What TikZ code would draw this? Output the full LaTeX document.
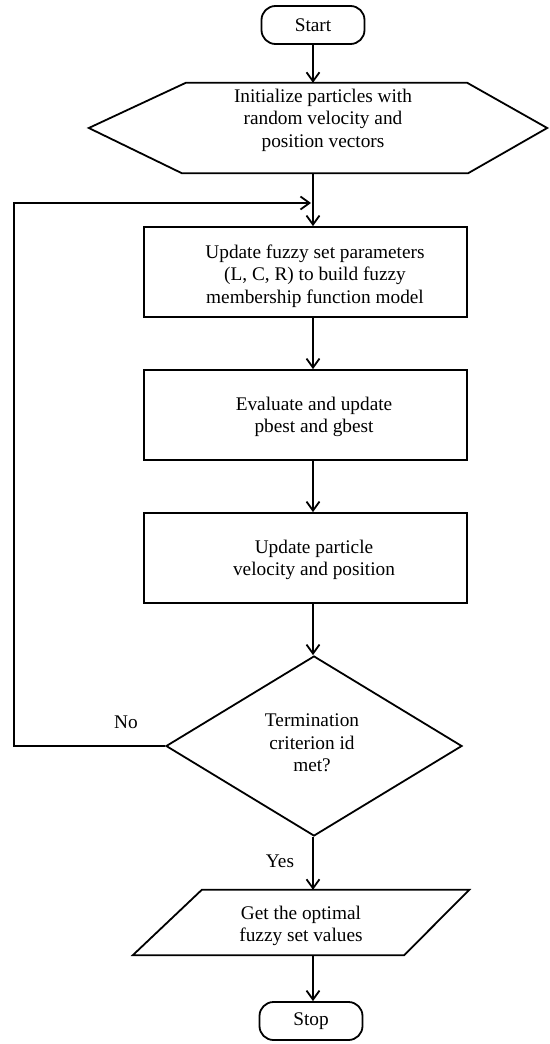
\documentclass[tikz,border=0pt]{standalone}
\usepackage{fontspec}
\setmainfont{Liberation Serif}
\usetikzlibrary{arrows.meta,shapes.geometric}
\begin{document}
\begin{tikzpicture}[x=1pt,y=-1pt,
  every node/.style={font=\fontsize{19.3}{22.5}\selectfont},
  ln/.style={line width=1.8pt},
  arr/.style={ln,-{Straight Barb[length=9pt,width=13pt]}},
  procbox/.style={draw,line width=1.8pt,minimum width=323pt,minimum height=90pt,inner sep=0pt},
  term/.style={draw,line width=1.8pt,rounded corners=14pt,minimum width=103pt,minimum height=38pt,inner sep=0pt},
  txt/.style={align=center,inner sep=0pt},
  ghost/.style={draw=none,inner sep=0pt}
]
\useasboundingbox (0,0) rectangle (549,1044);

\node[term] (start) at (313,25) {Start};

\node[ghost,minimum width=458pt,minimum height=90pt] (hex) at (318,128) {};
\draw[ln] (hex.west) -- ([xshift=97pt]hex.north west) -- ([xshift=-80pt]hex.north east) -- (hex.east) -- ([xshift=-79pt]hex.south east) -- ([xshift=93pt]hex.south west) -- cycle;
\node[txt] (thex) at (323,120) {Initialize particles with\\random velocity and\\position vectors};

\node[procbox] (b1) at (305.5,272) {};
\node[txt] (t1) at (315,276) {Update fuzzy set parameters\\(L, C, R) to build fuzzy\\membership function model};
\node[procbox] (b2) at (305.5,415) {};
\node[txt] (t2) at (314,417) {Evaluate and update\\pbest and gbest};
\node[procbox] (b3) at (305.5,558) {};
\node[txt] (t3) at (314,560) {Update particle\\velocity and position};

\node[diamond,draw,ln,minimum width=296pt,minimum height=180pt,inner sep=0pt] (dia) at (314,746) {};
\node[txt] (tdia) at (312,743) {Termination\\criterion id\\met?};

\node[ghost,minimum width=336pt,minimum height=65pt] (para) at (301,922.5) {};
\draw[ln] ([xshift=69pt]para.north west) -- (para.north east) -- ([xshift=-65pt]para.south east) -- (para.south west) -- cycle;
\node[txt] (tpara) at (301,926) {Get the optimal\\fuzzy set values};

\node[term] (stop) at (311,1021) {Stop};

\node (no) at (126,722) {No};
\node (yes) at (280,861) {Yes};

\coordinate (loopin) at (311,203);
\draw[arr] (start) -- (start |- hex.north);
\draw[arr] (start |- hex.south) -- (start |- b1.north);
\draw[arr] (dia.west) -- ++(-151,0) |- (loopin);
\draw[arr] (start |- b1.south) -- (start |- b2.north);
\draw[arr] (start |- b2.south) -- (start |- b3.north);
\draw[arr] (start |- b3.south) -- (start |- dia.north);
\draw[arr] (start |- dia.south) -- (start |- para.north);
\draw[arr] (start |- para.south) -- (start |- stop.north);
\end{tikzpicture}
\end{document}
